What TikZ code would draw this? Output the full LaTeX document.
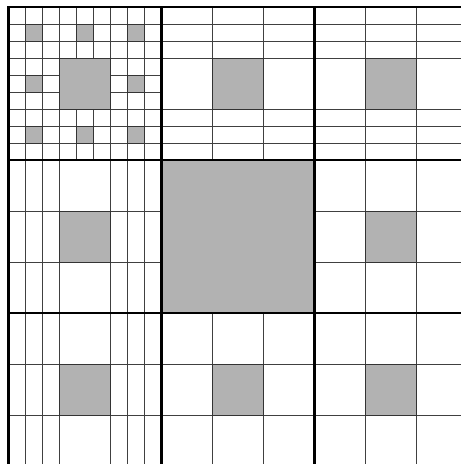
\documentclass[tikz,border=0pt]{standalone}
\usepackage{tikz}

\begin{document}
\begin{tikzpicture}[scale = 4,
	fine/.style = {black!75, line width = 0.6pt},
	bold/.style = {black, line width = 2.2pt, line cap = rect},
	hole/.style = {fill = black!30, draw = black!80, line width = 0.6pt}]
	\useasboundingbox (-0.0556,0.0131) rectangle (2.9575,3.0458);
	\clip (-0.0556,0.0131) rectangle (2.9575,3.0458);
	\fill [white] (-0.0556,0.0131) rectangle (2.9575,3.0458);
	% thirds
	\foreach \k in {1,2,4,5,7,8} {
		\draw [fine] (\k/3,0) -- (\k/3,3);
		\draw [fine] (0,\k/3) -- (3,\k/3);
	}
	% ninths, top row and left column
	\foreach \k in {1,2,7,8} {
		\draw [fine] (0,2+\k/9) -- (3,2+\k/9);
		\draw [fine] (\k/9,0) -- (\k/9,3);
	}
	\foreach \k in {4,5} {
		\draw [fine] (0,2+\k/9) -- (1,2+\k/9);
		\draw [fine] (\k/9,2) -- (\k/9,3);
	}
	% holes
	\foreach \a in {0,1,2}
		\foreach \b in {0,1,2}
			\draw [hole] (\a/3+1/9,2+\b/3+1/9) rectangle +(1/9,1/9);
	\foreach \i in {0,1,2}
		\foreach \j in {0,1,2}
			\draw [hole] (\i+1/3,\j+1/3) rectangle +(1/3,1/3);
	\draw [hole] (1,1) rectangle (2,2);
	% blocks
	\foreach \k in {0,...,3} {
		\draw [bold] (\k,0) -- (\k,3);
		\draw [bold] (0,\k) -- (3,\k);
	}
\end{tikzpicture}
\end{document}
